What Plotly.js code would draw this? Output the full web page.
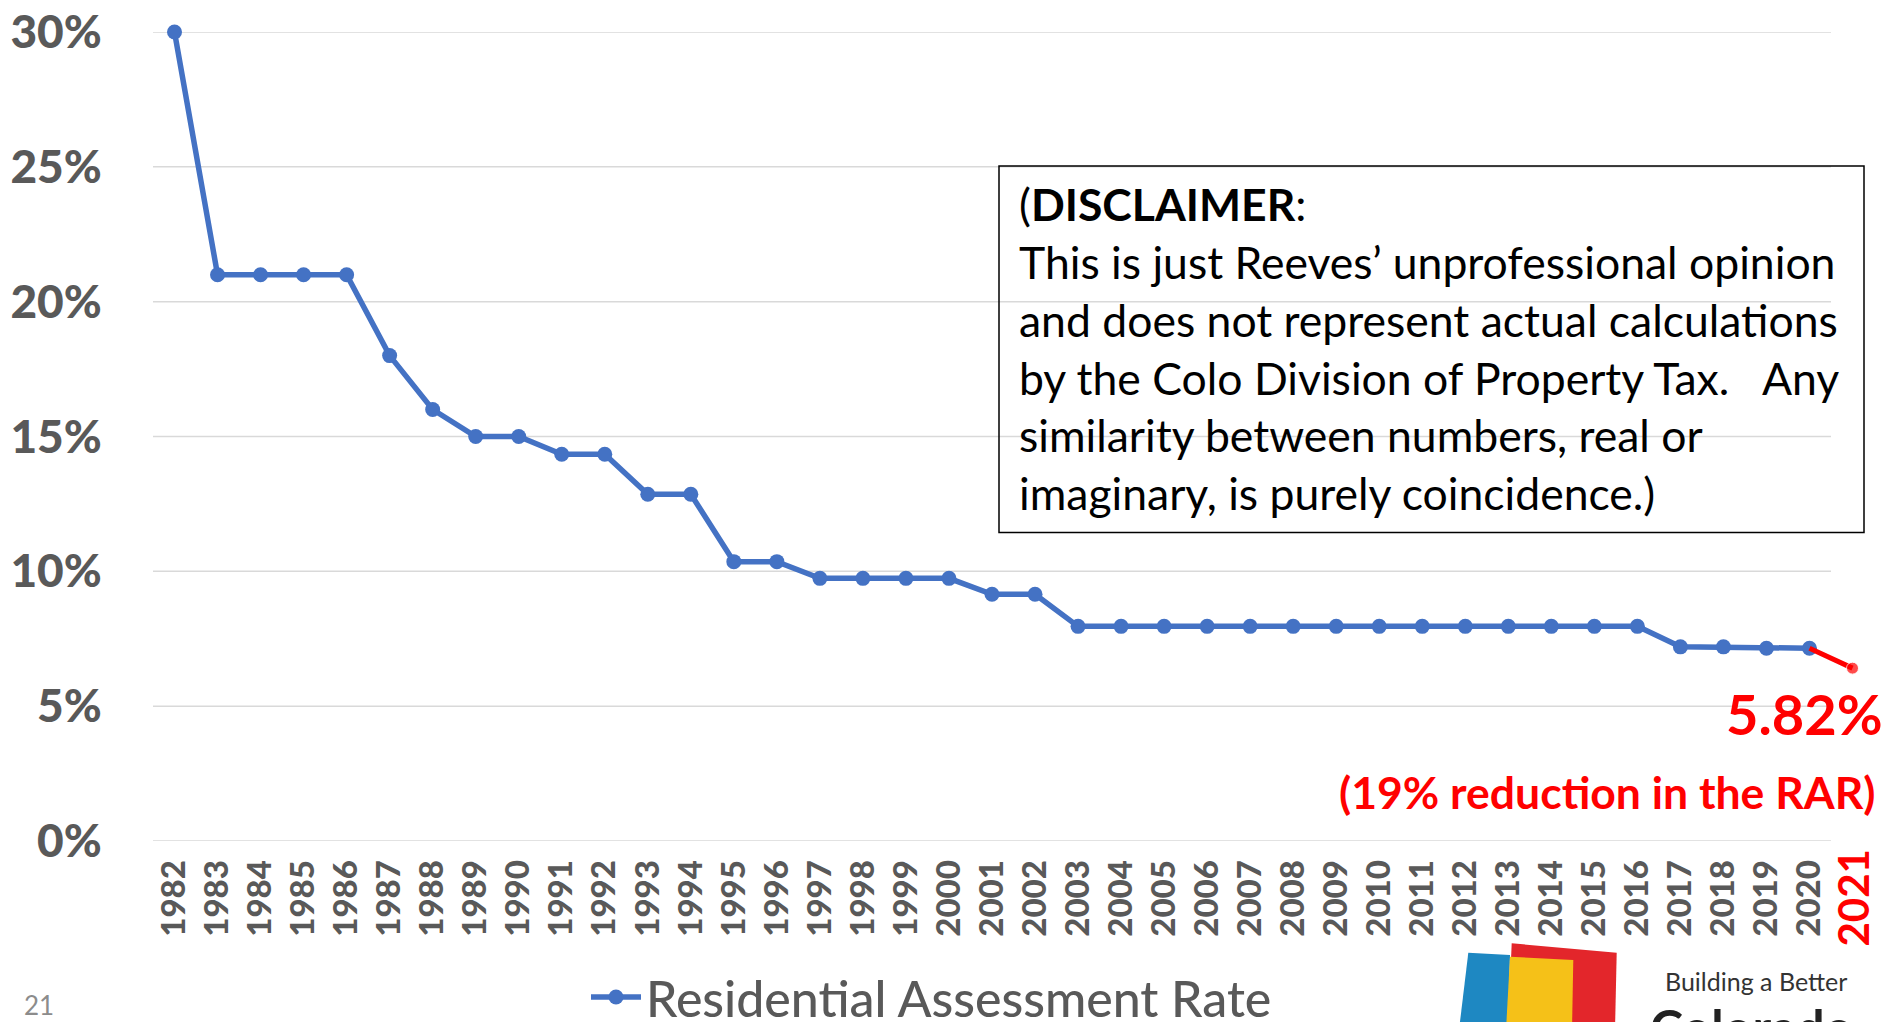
<!DOCTYPE html>
<html>
<head>
<meta charset="utf-8">
<script src="https://cdn.plot.ly/plotly-3.0.1.min.js"></script>
<style>
  html, body { margin: 0; padding: 0; background: #ffffff; }
  #chart { width: 1889px; height: 1022px; }
</style>
</head>
<body>
<div id="chart"></div>
<script>
// ---- data ----
const years = [1982, 1983, 1984, 1985, 1986, 1987, 1988, 1989, 1990, 1991,
               1992, 1993, 1994, 1995, 1996, 1997, 1998, 1999, 2000, 2001,
               2002, 2003, 2004, 2005, 2006, 2007, 2008, 2009, 2010, 2011,
               2012, 2013, 2014, 2015, 2016, 2017, 2018, 2019, 2020];
const rates = [30, 21, 21, 21, 21, 18, 16, 15, 15, 14.34,
               14.34, 12.86, 12.86, 10.36, 10.36, 9.74, 9.74, 9.74, 9.74, 9.15,
               9.15, 7.96, 7.96, 7.96, 7.96, 7.96, 7.96, 7.96, 7.96, 7.96,
               7.96, 7.96, 7.96, 7.96, 7.96, 7.2, 7.2, 7.15, 7.15];
const projYears = [2020, 2021];
const projRates = [7.15, 6.41];
const yTickVals = [0, 5, 10, 15, 20, 25, 30];
const yTickText = ['0%', '5%', '10%', '15%', '20%', '25%', '30%'];
const seriesName = 'Residential Assessment Rate';
const projLabel = '5.82%';
const reductionLabel = '(19% reduction in the RAR)';
const disclaimerLines = [
  '(<b>DISCLAIMER</b>:',
  'This is just Reeves\u2019 unprofessional opinion',
  'and does not represent actual calculations',
  'by the Colo Division of Property Tax.   Any',
  'similarity between numbers, real or',
  'imaginary, is purely coincidence.)'
];

// ---- layout geometry (pixels) ----
const W = 1889, H = 1022;
const M = { l: 153, r: 4, t: 32, b: 181, autoexpand: false };
const plotW = W - M.l - M.r, plotH = H - M.t - M.b;
const gridRightPx = 1831;                       // where the gridlines stop
const catW = (gridRightPx - M.l) / years.length; // px per year
const xMin = years[0] - 0.5;
const xMax = xMin + plotW / catW;
const px2x = px => (px - M.l) / plotW;           // paper x
const px2y = py => (H - M.b - py) / plotH;       // paper y

const FONT = 'Lato, "Open Sans", "Noto Sans", sans-serif';
const GRAY = '#595959';
const BLUE = '#4472C4';
const RED = '#FF0000';

const traces = [
  {
    x: years, y: rates, type: 'scatter', mode: 'lines+markers',
    name: seriesName,
    line: { color: BLUE, width: 5.5 },
    marker: { color: BLUE, size: 15 },
    cliponaxis: false, hoverinfo: 'skip'
  },
  {
    x: projYears, y: projRates, type: 'scatter', mode: 'lines+markers',
    showlegend: false,
    line: { color: RED, width: 5 },
    marker: { color: RED, size: [0, 12] },
    cliponaxis: false, hoverinfo: 'skip'
  }
];

function poly(pts) {
  return 'M' + pts.map(p => px2x(p[0]).toFixed(5) + ',' + px2y(p[1]).toFixed(5)).join(' L') + ' Z';
}

// horizontal gridlines, one per y tick, stopping where the reference's grid stops
const gridShapes = yTickVals.map(v => ({
  type: 'line', xref: 'paper', yref: 'y', layer: 'below',
  x0: 0, x1: px2x(gridRightPx), y0: v, y1: v,
  line: { color: '#D9D9D9', width: 1.5 }
}));

const shapes = gridShapes.concat([
  // disclaimer box
  { type: 'rect', xref: 'paper', yref: 'paper',
    x0: px2x(999), x1: px2x(1864), y0: px2y(166), y1: px2y(532.5),
    line: { color: '#000000', width: 1.5 }, fillcolor: 'rgba(0,0,0,0)' },
  // logo
  { type: 'path', xref: 'paper', yref: 'paper', layer: 'above',
    path: poly([[1511.7, 943.3], [1616.7, 952.7], [1615, 1030], [1508, 1030]]),
    fillcolor: '#E3262B', line: { width: 0 } },
  { type: 'path', xref: 'paper', yref: 'paper', layer: 'above',
    path: poly([[1468.3, 952.7], [1510, 955], [1508, 1030], [1459, 1030]]),
    fillcolor: '#1E88C2', line: { width: 0 } },
  { type: 'path', xref: 'paper', yref: 'paper', layer: 'above',
    path: poly([[1510, 956.7], [1573.3, 960], [1572, 1030], [1506, 1030]]),
    fillcolor: '#F5C118', line: { width: 0 } }
]);

const annotations = [
  { xref: 'paper', yref: 'paper', x: px2x(1017), y: px2y(348),
    xanchor: 'left', yanchor: 'middle', align: 'left', showarrow: false,
    text: disclaimerLines.join('<br>'),
    font: { family: FONT, size: 44.5, color: '#000000' } },
  { xref: 'paper', yref: 'paper', x: px2x(1885), y: px2y(713),
    xanchor: 'right', yanchor: 'middle', showarrow: false,
    text: '<b>' + projLabel + '</b>',
    font: { family: FONT, size: 56, color: RED } },
  { xref: 'paper', yref: 'paper', x: px2x(1878), y: px2y(791.5),
    xanchor: 'right', yanchor: 'middle', showarrow: false,
    text: '<b>' + reductionLabel + '</b>',
    font: { family: FONT, size: 44.5, color: RED } },
  { xref: 'x', yref: 'paper', x: projYears[1], y: px2y(898),
    xanchor: 'center', yanchor: 'middle', showarrow: false, textangle: -90,
    text: '<b>' + projYears[1] + '</b>',
    font: { family: FONT, size: 42, color: RED, weight: 900 } },
  { xref: 'paper', yref: 'paper', x: px2x(22), y: px2y(1005),
    xanchor: 'left', yanchor: 'middle', showarrow: false,
    text: '21', font: { family: FONT, size: 26, color: '#8C8C8C' } },
  { xref: 'paper', yref: 'paper', x: px2x(1756), y: px2y(981),
    xanchor: 'center', yanchor: 'middle', showarrow: false,
    text: 'Building a Better', font: { family: FONT, size: 25, color: '#333333' } },
  { xref: 'paper', yref: 'paper', x: px2x(1648), y: px2y(995),
    xanchor: 'left', yanchor: 'top', showarrow: false,
    text: '<b>Colorado</b>', font: { family: FONT, size: 50, color: '#222222' } }
];

const layout = {
  width: W, height: H,
  margin: M,
  paper_bgcolor: '#ffffff', plot_bgcolor: '#ffffff',
  font: { family: FONT, color: GRAY },
  showlegend: true,
  legend: {
    orientation: 'h', x: px2x(586), y: px2y(997),
    xanchor: 'left', yanchor: 'middle',
    itemwidth: 50,
    font: { family: FONT, size: 50, color: GRAY, weight: 500 },
    bgcolor: 'rgba(0,0,0,0)'
  },
  xaxis: {
    type: 'linear', range: [xMin, xMax], automargin: false,
    tickmode: 'array', tickvals: years, ticktext: years.map(String),
    tickangle: -90,
    tickfont: { family: FONT, size: 33, color: GRAY, weight: 900 },
    showgrid: false, zeroline: false, showline: false,
    ticks: 'outside', ticklen: 5, tickcolor: 'rgba(0,0,0,0)'
  },
  yaxis: {
    range: [0, 30], automargin: false,
    tickmode: 'array', tickvals: yTickVals, ticktext: yTickText,
    tickfont: { family: FONT, size: 46, color: GRAY, weight: 900 },
    showgrid: false, zeroline: false, showline: false,
    ticks: 'outside', ticklen: 41, tickcolor: 'rgba(0,0,0,0)'
  },
  shapes: shapes,
  annotations: annotations
};

Plotly.newPlot('chart', traces, layout, { staticPlot: true, displayModeBar: false });
</script>
</body>
</html>
